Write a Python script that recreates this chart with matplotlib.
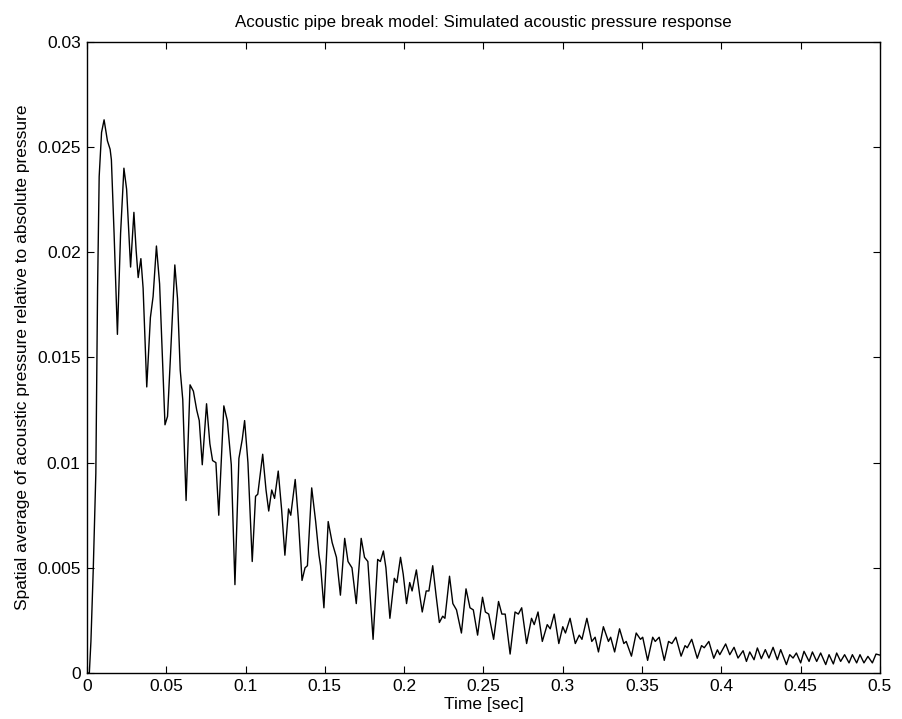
import numpy as np
import matplotlib
matplotlib.use("Agg")
import matplotlib.pyplot as plt

# ------- data (time [s], pressure) -------
t_rise = [0.0, 0.0015, 0.0025, 0.004, 0.0056, 0.0067, 0.0077, 0.0092, 0.0108, 0.0129,
          0.0146, 0.0154, 0.0171, 0.0192, 0.0212, 0.0233, 0.025, 0.0275, 0.0296, 0.031,
          0.0323, 0.034, 0.0354, 0.0377, 0.04, 0.0417, 0.0438, 0.0458, 0.0492, 0.0508,
          0.0525, 0.0554, 0.0571, 0.0588, 0.0604, 0.0625, 0.065, 0.0671, 0.0692, 0.0708,
          0.0727, 0.0754, 0.0775, 0.0792, 0.0813, 0.0831, 0.0863, 0.0885, 0.091, 0.0933,
          0.0958, 0.0979, 0.0994]
p_rise = [0.0, 0.0, 0.0015, 0.005, 0.0095, 0.0183, 0.0236, 0.0257, 0.0263, 0.0253,
          0.0249, 0.0244, 0.0209, 0.0161, 0.0209, 0.0240, 0.0230, 0.0193, 0.0219, 0.0201,
          0.0188, 0.0197, 0.0183, 0.0136, 0.0169, 0.0179, 0.0203, 0.0185, 0.0118, 0.0122,
          0.0148, 0.0194, 0.0178, 0.0144, 0.0130, 0.0082, 0.0137, 0.0134, 0.0125, 0.0120,
          0.0099, 0.0128, 0.0109, 0.0101, 0.0100, 0.0075, 0.0127, 0.0120, 0.0099, 0.0042,
          0.0102, 0.0111, 0.0120]

t_mid = [0.1015, 0.1042, 0.1063, 0.1077, 0.1108, 0.1129, 0.1146, 0.1165, 0.1183, 0.1206,
         0.1227, 0.1248, 0.1271, 0.1285, 0.1313, 0.1333, 0.1356, 0.1375, 0.139, 0.1417,
         0.1442, 0.1463, 0.1473, 0.1494, 0.1521, 0.1546, 0.1573, 0.1598, 0.1625, 0.1646,
         0.1671, 0.1698, 0.1729, 0.175, 0.1771, 0.1804, 0.1833, 0.185, 0.1869, 0.1885,
         0.191, 0.1938, 0.1954, 0.1977, 0.1994, 0.2015]
p_mid = [0.0100, 0.0053, 0.0084, 0.0085, 0.0104, 0.0087, 0.0077, 0.0087, 0.0083, 0.0096,
         0.0078, 0.0056, 0.0078, 0.0075, 0.0092, 0.0073, 0.0044, 0.0050, 0.0051, 0.0088,
         0.0072, 0.0056, 0.0051, 0.0031, 0.0072, 0.0062, 0.0055, 0.0037, 0.0064, 0.0053,
         0.0050, 0.0033, 0.0064, 0.0055, 0.0053, 0.0016, 0.0054, 0.0053, 0.0058, 0.0050,
         0.0026, 0.0045, 0.0043, 0.0055, 0.0047, 0.0033]

t_late = [0.2035, 0.205, 0.2077, 0.2098, 0.2114, 0.2139, 0.2156, 0.218, 0.2201, 0.2222,
          0.2243, 0.2257, 0.2286, 0.2307, 0.233, 0.2361, 0.239, 0.2415, 0.2436, 0.2463,
          0.2494, 0.2512, 0.2533, 0.2564, 0.2595, 0.2616, 0.2637, 0.2668, 0.2699, 0.272,
          0.2741, 0.2772, 0.2803, 0.282, 0.2844, 0.2871, 0.2902, 0.2921, 0.2946, 0.2975]
p_late = [0.0043, 0.0039, 0.0049, 0.0037, 0.0029, 0.0039, 0.0039, 0.0051, 0.0037, 0.0024,
          0.0027, 0.0026, 0.0046, 0.0033, 0.0030, 0.0019, 0.0040, 0.0031, 0.0030, 0.0018,
          0.0036, 0.0029, 0.0028, 0.0016, 0.0034, 0.0028, 0.0028, 0.0009, 0.0029, 0.0028,
          0.0031, 0.0014, 0.0026, 0.0023, 0.0029, 0.0015, 0.0023, 0.0021, 0.0028, 0.0014]

t_tail = [0.3, 0.3017, 0.3046, 0.3079, 0.3104, 0.3121, 0.3152, 0.3183, 0.3204, 0.3225,
          0.3256, 0.3288, 0.3302, 0.3327, 0.3358, 0.3385, 0.34, 0.3433, 0.3463, 0.349,
          0.3504, 0.3535, 0.3567, 0.3583, 0.3608, 0.364, 0.3667, 0.3688, 0.3713, 0.3746,
          0.3771, 0.3785, 0.3813, 0.3848, 0.3875, 0.3892, 0.3921, 0.3952, 0.3975]
p_tail = [0.0022, 0.0019, 0.0026, 0.0014, 0.0018, 0.0016, 0.0026, 0.0015, 0.0017, 0.0010,
          0.0022, 0.0015, 0.0017, 0.0010, 0.0021, 0.0014, 0.0015, 0.0008, 0.0019, 0.0016,
          0.0017, 0.0006, 0.0017, 0.0015, 0.0017, 0.0006, 0.0015, 0.0014, 0.0017, 0.0008,
          0.0013, 0.0012, 0.0016, 0.0007, 0.0013, 0.0012, 0.0015, 0.0007, 0.0011]

t_end = [0.399, 0.4027, 0.4053, 0.408, 0.4105, 0.4137, 0.4158, 0.4179, 0.4206, 0.4227,
         0.4252, 0.4277, 0.43, 0.4326, 0.4353, 0.4374, 0.441, 0.4431, 0.4452, 0.4473,
         0.45, 0.4521, 0.4553, 0.4574, 0.4601, 0.4626, 0.4658, 0.4679, 0.4706, 0.4727,
         0.4752, 0.4777, 0.4805, 0.4826, 0.4853, 0.4874, 0.4899, 0.4924, 0.4952, 0.4975,
         0.5]
p_end = [0.00087, 0.00138, 0.00087, 0.00122, 0.00071, 0.00106, 0.00055, 0.00100, 0.00063, 0.00119,
         0.00068, 0.00111, 0.00071, 0.00122, 0.00063, 0.00111, 0.00040, 0.00087, 0.00071, 0.00095,
         0.00048, 0.00103, 0.00055, 0.00100, 0.00055, 0.00095, 0.00040, 0.00087, 0.00043, 0.00095,
         0.00055, 0.00087, 0.00048, 0.00087, 0.00048, 0.00087, 0.00048, 0.00079, 0.00048, 0.00090,
         0.00085]

x_ticks = [0, 0.05, 0.1, 0.15, 0.2, 0.25, 0.3, 0.35, 0.4, 0.45, 0.5]
x_labels = ['0', '0.05', '0.1', '0.15', '0.2', '0.25', '0.3', '0.35', '0.4', '0.45', '0.5']
y_ticks = [0, 0.005, 0.01, 0.015, 0.02, 0.025, 0.03]
y_labels = ['0', '0.005', '0.01', '0.015', '0.02', '0.025', '0.03']

t = np.array(t_rise + t_mid + t_late + t_tail + t_end)
p = np.array(p_rise + p_mid + p_late + p_tail + p_end)

# ------- plot -------
plt.rcParams['font.family'] = ['Liberation Sans', 'DejaVu Sans']
fig = plt.figure(figsize=(9.03, 7.19), dpi=100)
ax = fig.add_axes([0.0963, 0.064, 0.8782, 0.8776])

ax.plot(t, p, color='black', lw=1.0, solid_joinstyle='round')

ax.set_xlim(0, 0.5)
ax.set_ylim(0, 0.03)
ax.set_xticks(x_ticks)
ax.set_xticklabels(x_labels)
ax.set_yticks(y_ticks)
ax.set_yticklabels(y_labels)
ax.tick_params(direction='in', top=True, right=True, length=5, width=0.8,
               labelsize=12.5, pad=4.5)
for s in ax.spines.values():
    s.set_linewidth(1.0)

ax.set_title('Acoustic pipe break model: Simulated acoustic pressure response',
             fontsize=12.2, pad=11)
ax.set_xlabel('Time [sec]', fontsize=12.5, labelpad=2)
ax.set_ylabel('Spatial average of acoustic pressure relative to absolute pressure',
              fontsize=12.5, labelpad=5)

fig.savefig('out.png', dpi=100)
